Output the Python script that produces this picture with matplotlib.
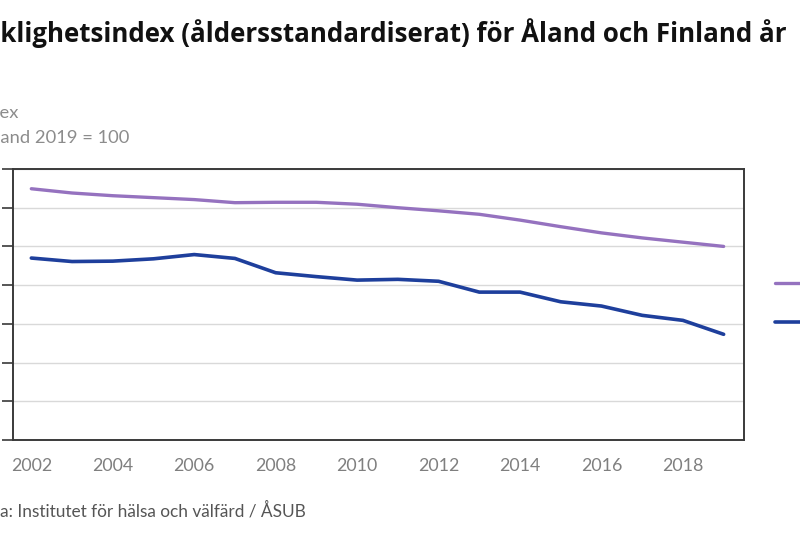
import matplotlib
matplotlib.use("Agg")
import matplotlib.pyplot as plt

years = list(range(2002, 2020))
finland = [114.9, 113.8, 113.1, 112.6, 112.1, 111.3, 111.4, 111.4, 110.9, 110.0,
           109.2, 108.3, 106.8, 105.1, 103.5, 102.2, 101.1, 100.0]
aland = [97.0, 96.1, 96.2, 96.8, 97.9, 96.9, 93.2, 92.2, 91.3, 91.5,
         91.0, 88.2, 88.2, 85.7, 84.6, 82.2, 80.9, 77.3]
series_labels = ["Finland", "Åland"]
xticks = list(range(2002, 2020, 2))
yticks = list(range(50, 121, 10))

title_main = "Sjuklighetsindex (åldersstandardiserat) för Åland och Finland år"
title_tail = "  2002–2019"
sub1 = "Index"
sub2 = "Finland 2019 = 100"
source = "Källa: Institutet för hälsa och välfärd / ÅSUB"

W, H = 800, 533
fig = plt.figure(figsize=(8, 5.33), dpi=100)
fig.patch.set_facecolor("white")

ax = fig.add_axes([13 / W, 1 - 440 / H, (744 - 13) / W, (440 - 169) / H])
purple = "#9572BF"
blue = "#1E3F9C"
ax.plot(years, finland, color=purple, lw=2.4, label=series_labels[0], solid_capstyle="round")
ax.plot(years, aland, color=blue, lw=2.6, label=series_labels[1], solid_capstyle="round")

ax.set_xlim(2001.55, 2019.5)
ax.set_ylim(50, 120)
ax.set_xticks(xticks)
ax.set_yticks(yticks)
ax.grid(axis="y", color="#d9d9d9", lw=1)
ax.set_axisbelow(True)
for s in ax.spines.values():
    s.set_color("#3a3a3a")
    s.set_linewidth(1.4)
ax.tick_params(axis="x", length=0, pad=13, labelsize=12.8, labelcolor="#7f7f7f")
ax.tick_params(axis="y", length=8, width=1.2, color="#3a3a3a", direction="out",
               pad=10, labelsize=12.8, labelcolor="#7f7f7f")
for lab in ax.get_xticklabels() + ax.get_yticklabels():
    lab.set_family("Lato")

leg = ax.legend(loc="upper left", bbox_to_anchor=(775 / W, 1 - 276 / H),
                bbox_transform=fig.transFigure, frameon=False, borderpad=0,
                borderaxespad=0, handlelength=2.5, labelspacing=1.25,
                prop={"family": "Lato", "size": 12.5})
for t in leg.get_texts():
    t.set_color("#595959")

renderer = fig.canvas.get_renderer()

def width_px(s, **kw):
    probe = fig.text(0, 0, s, **kw)
    w = probe.get_window_extent(renderer).width
    probe.remove()
    return w

def clipped_text(full, prefix, y_px, **kw):
    w = width_px(prefix, **kw)
    fig.text(-w / W, 1 - y_px / H, full, va="center", ha="left", **kw)

# title sized so the visible part (after "Sju") spans to about x=790
tkw = dict(fontweight="bold", color="#111111", family="Open Sans")
base = 10
wvis = width_px(title_main, fontsize=base, **tkw) - width_px("Sju", fontsize=base, **tkw)
tsize = base * 788 / wvis
clipped_text(title_main + title_tail, "Sju", 33, fontsize=tsize, **tkw)
clipped_text(sub1, "Ind", 113, fontsize=13.2, color="#8c8c8c", family="Lato")
clipped_text(sub2, "Finl", 138, fontsize=13.2, color="#8c8c8c", family="Lato")
clipped_text(source, "Käll", 511, fontsize=12.4, color="#555555", family="Lato")

fig.savefig("out.png", dpi=100, facecolor="white")
